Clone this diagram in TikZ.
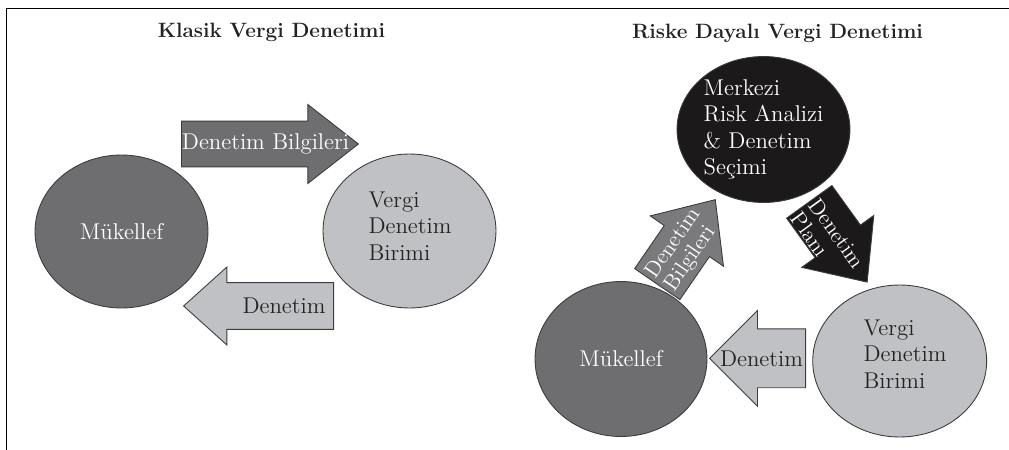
\documentclass[tikz,border=0pt]{standalone}
\usepackage{fontspec}
\usepackage{xcolor}
\usetikzlibrary{shapes.geometric,shapes.arrows}
\definecolor{darkgray}{RGB}{110,110,112}
\definecolor{midgray}{RGB}{122,122,124}
\definecolor{lightgray}{RGB}{192,193,196}
\definecolor{nearblack}{RGB}{28,25,26}
\definecolor{edgegray}{RGB}{60,60,62}
\definecolor{inkgray}{RGB}{35,35,35}

\begin{document}
\begin{tikzpicture}[x=0.02cm, y=-0.02cm,
  blob/.style={ellipse, draw=edgegray, line width=0.5pt, inner sep=0pt},
  blockarrow/.style={single arrow, draw=edgegray, line width=0.5pt, inner sep=0pt, single arrow head indent=0pt, text height=#1, text depth=#1, anchor=tail},
  lbl/.style={font=\fontsize{13}{15}\selectfont, align=left, inner sep=0pt},
  difflbl/.style={font=\fontsize{12.5}{12.8}\selectfont, align=left, inner sep=0pt, text=white},
  ttl/.style={font=\fontsize{11.8}{13}\selectfont\bfseries, text=inkgray}]
\useasboundingbox (0,0) rectangle (1009,450);
\draw[line width=1.1pt] (6.5,450) -- (6.5,8.5) -- (1009,8.5);

\node[ttl] (titleL) at (271.5,32) {Klasik Vergi Denetimi};
\node[blockarrow=0.45cm, fill=darkgray, minimum height=3.54cm, minimum width=1.56cm, single arrow head extend=0.33cm, single arrow tip angle=76] (bilgiL) at (181,144) {};
\node[blockarrow=0.46cm, fill=lightgray, minimum height=3.0cm, minimum width=1.54cm, single arrow head extend=0.31cm, single arrow tip angle=84, shape border rotate=180] (denetimL) at (334,306) {};
\node[lbl, text=white] (bilgiLtxt) at (265.5,144) {Denetim Bilgileri};
\node[lbl, text=inkgray] (denetimLtxt) at (284,306) {Denetim};
\node[blob, fill=darkgray, minimum width=3.46cm, minimum height=3.06cm, text=white, lbl] (mukL) at (121.5,231.5) {Mükellef};
\node[blob, fill=lightgray, minimum width=3.46cm, minimum height=3.08cm] (birimL) at (409.5,231) {};
\node[lbl, text=inkgray] (birimLtxt) at (410,226) {Vergi\\Denetim\\Birimi};

\node[ttl] (titleR) at (777.5,33) {Riske Dayalı Vergi Denetimi};
\node[blockarrow=0.54cm, fill=midgray, minimum height=2.05cm, minimum width=1.76cm, single arrow head extend=0.34cm, single arrow tip angle=83, rotate=55.5] (bilgiR) at (657,284.5) {};
\node[blockarrow=0.55cm, fill=nearblack, minimum height=1.98cm, minimum width=1.76cm, single arrow head extend=0.33cm, single arrow tip angle=83, rotate=-54.2] (planR) at (809,201.5) {};
\node[blockarrow=0.58cm, fill=lightgray, minimum height=1.92cm, minimum width=1.9cm, single arrow head extend=0.37cm, single arrow tip angle=90, shape border rotate=180] (denetimR) at (806,358.3) {};
\node[difflbl, rotate=55.5] (bilgiRtxt) at (683,250) {Denetim\\Bilgileri};
\node[difflbl, rotate=-54.2] (planRtxt) at (828,240) {Denetim\\Planı};
\node[lbl, text=inkgray] (denetimRtxt) at (761.5,359) {Denetim};
\node[blob, fill=nearblack, minimum width=3.46cm, minimum height=2.92cm, text=white, lbl] (merkez) at (763.5,129.5) {Merkezi\\Risk Analizi\\\& Denetim\\Seçimi};
\node[blob, fill=darkgray, minimum width=3.44cm, minimum height=3.1cm, text=white, lbl] (mukR) at (621,359) {Mükellef};
\node[blob, fill=lightgray, minimum width=3.48cm, minimum height=3.04cm] (birimR) at (899.7,361) {};
\node[lbl, text=inkgray] (birimRtxt) at (905,354) {Vergi\\Denetim\\Birimi};
\end{tikzpicture}
\end{document}
